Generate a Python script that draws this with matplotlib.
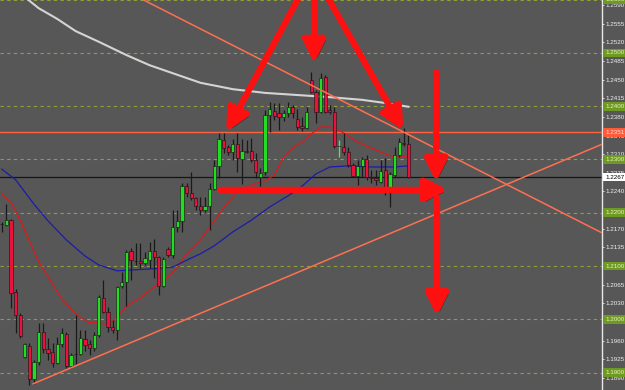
import matplotlib
matplotlib.use('Agg')
import matplotlib.pyplot as plt
import matplotlib.patheffects as pe
import matplotlib.transforms as mtrans
from matplotlib.patches import Rectangle

# ---------------- data ----------------
opens = [1.2179, 1.2177, 1.2186, 1.2052, 1.2008, 1.1929, 1.1950, 1.1888, 1.1920, 1.1976,
         1.1944, 1.1939, 1.1918, 1.1954, 1.1972, 1.1912, 1.1935, 1.1935, 1.1963, 1.1954,
         1.1946, 1.1971, 1.2040, 1.2014, 1.1986, 1.1980, 1.2063, 1.2070, 1.2128, 1.2110,
         1.2110, 1.2106, 1.2111, 1.2128, 1.2117, 1.2063, 1.2132, 1.2121, 1.2173, 1.2185,
         1.2250, 1.2237, 1.2228, 1.2213, 1.2205, 1.2213, 1.2245, 1.2288, 1.2337, 1.2324,
         1.2314, 1.2329, 1.2301, 1.2316, 1.2316, 1.2299, 1.2267, 1.2277, 1.2384, 1.2391,
         1.2387, 1.2380, 1.2387, 1.2399, 1.2376, 1.2363, 1.2359, 1.2449, 1.2427, 1.2389,
         1.2455, 1.2393, 1.2389, 1.2325, 1.2324, 1.2314, 1.2290, 1.2269, 1.2288, 1.2301,
         1.2267, 1.2265, 1.2258, 1.2280, 1.2245, 1.2271, 1.2308, 1.2331, 1.2329]
highs = [1.2183, 1.2216, 1.2188, 1.2056, 1.2012, 1.1956, 1.1956, 1.1924, 1.1993, 1.1993,
         1.1965, 1.1956, 1.1967, 1.1984, 1.1976, 1.1937, 1.2008, 1.1980, 1.1980, 1.1961,
         1.1976, 1.2046, 1.2074, 1.2023, 1.1999, 1.2063, 1.2089, 1.2130, 1.2134, 1.2143,
         1.2143, 1.2126, 1.2145, 1.2151, 1.2119, 1.2117, 1.2136, 1.2205, 1.2205, 1.2256,
         1.2256, 1.2277, 1.2230, 1.2230, 1.2230, 1.2256, 1.2299, 1.2350, 1.2350, 1.2327,
         1.2338, 1.2350, 1.2338, 1.2337, 1.2340, 1.2312, 1.2284, 1.2393, 1.2408, 1.2406,
         1.2406, 1.2393, 1.2408, 1.2402, 1.2395, 1.2380, 1.2399, 1.2464, 1.2430, 1.2462,
         1.2459, 1.2402, 1.2399, 1.2337, 1.2350, 1.2324, 1.2294, 1.2299, 1.2305, 1.2308,
         1.2280, 1.2280, 1.2299, 1.2303, 1.2277, 1.2324, 1.2340, 1.2359, 1.2346]
lows = [1.2164, 1.2175, 1.2021, 1.1974, 1.1965, 1.1927, 1.1877, 1.1879, 1.1914, 1.1937,
        1.1924, 1.1911, 1.1916, 1.1948, 1.1909, 1.1909, 1.1916, 1.1933, 1.1941, 1.1933,
        1.1941, 1.1967, 1.2012, 1.1976, 1.1974, 1.1961, 1.2059, 1.2025, 1.2074, 1.2102,
        1.2096, 1.2102, 1.2096, 1.2078, 1.2046, 1.2061, 1.2117, 1.2115, 1.2164, 1.2164,
        1.2230, 1.2224, 1.2205, 1.2196, 1.2202, 1.2168, 1.2243, 1.2265, 1.2312, 1.2308,
        1.2299, 1.2277, 1.2254, 1.2312, 1.2295, 1.2265, 1.2248, 1.2271, 1.2352, 1.2374,
        1.2355, 1.2372, 1.2380, 1.2378, 1.2355, 1.2354, 1.2357, 1.2425, 1.2368, 1.2387,
        1.2387, 1.2385, 1.2322, 1.2305, 1.2308, 1.2286, 1.2267, 1.2252, 1.2267, 1.2262,
        1.2256, 1.2252, 1.2256, 1.2233, 1.2211, 1.2267, 1.2305, 1.2325, 1.2265]
closes = [1.2178, 1.2186, 1.2050, 1.2008, 1.1969, 1.1954, 1.1888, 1.1920, 1.1976, 1.1944,
          1.1937, 1.1918, 1.1954, 1.1974, 1.1912, 1.1933, 1.1934, 1.1965, 1.1952, 1.1946,
          1.1971, 1.2042, 1.2014, 1.1986, 1.1980, 1.2061, 1.2070, 1.2126, 1.2111, 1.2109,
          1.2106, 1.2115, 1.2128, 1.2117, 1.2063, 1.2113, 1.2121, 1.2173, 1.2185, 1.2250,
          1.2237, 1.2228, 1.2213, 1.2205, 1.2213, 1.2245, 1.2288, 1.2338, 1.2322, 1.2314,
          1.2329, 1.2303, 1.2316, 1.2315, 1.2299, 1.2277, 1.2275, 1.2384, 1.2395, 1.2382,
          1.2380, 1.2387, 1.2399, 1.2387, 1.2361, 1.2359, 1.2389, 1.2427, 1.2389, 1.2453,
          1.2389, 1.2389, 1.2325, 1.2325, 1.2314, 1.2290, 1.2269, 1.2288, 1.2301, 1.2267,
          1.2266, 1.2262, 1.2278, 1.2247, 1.2273, 1.2308, 1.2333, 1.2329, 1.2267]

# moving averages, read at selected bar indices
ma_white_idx = [5, 8, 12, 16, 21, 27, 32, 38, 43, 50, 57, 64, 71, 78, 83, 88]
ma_white = [1.2605, 1.2584, 1.2564, 1.2541, 1.2521, 1.2496, 1.2477, 1.2459, 1.2444,
            1.2432, 1.2425, 1.2421, 1.2417, 1.2412, 1.2406, 1.2399]
ma_red_idx = [0, 2, 4, 6, 8, 10, 13, 15, 17, 19, 21, 23, 25, 27, 30, 33, 36, 38, 40, 43,
              46, 48, 51, 54, 57, 59, 61, 63, 65, 67, 69, 71, 73, 75, 77, 79, 81, 83, 85, 88]
ma_red = [1.2235, 1.2220, 1.2186, 1.2147, 1.2108, 1.2080, 1.2038, 1.2019, 1.2004, 1.1993,
          1.1995, 1.1989, 1.2004, 1.2025, 1.2040, 1.2061, 1.2080, 1.2098, 1.2123, 1.2149,
          1.2185, 1.2209, 1.2239, 1.2252, 1.2260, 1.2271, 1.2305, 1.2322, 1.2333, 1.2348,
          1.2361, 1.2361, 1.2355, 1.2344, 1.2333, 1.2325, 1.2318, 1.2310, 1.2305, 1.2305]
ma_blue_idx = [0, 3, 7, 10, 14, 18, 21, 25, 29, 33, 37, 40, 43, 46, 50, 54, 58, 62, 65,
               68, 71, 75, 80, 85, 88]
ma_blue = [1.2282, 1.2262, 1.2216, 1.2185, 1.2149, 1.2119, 1.2102, 1.2091, 1.2093, 1.2095,
           1.2098, 1.2111, 1.2123, 1.2138, 1.2164, 1.2186, 1.2211, 1.2232, 1.2250, 1.2273,
           1.2286, 1.2288, 1.2286, 1.2286, 1.2288]

# trend lines (bar index, price)
trend_down = [(30.8, 1.2599), (129.5, 1.2164)]
trend_up = [(6.8, 1.1879), (130.0, 1.2329)]

# horizontal levels
round_levels = [1.1900, 1.2000, 1.2100, 1.2200, 1.2300, 1.2400, 1.2500, 1.2600]
resistance_level = 1.2351
current_price = 1.2267
tick_values = [round(1.1890 + 0.0035 * k, 4) for k in range(21)]

# annotation arrows: (tail, tip) in (bar index, price)
arrows = [((64.6, 1.2609), (48.6, 1.2352)),
          ((67.6, 1.2609), (67.6, 1.2481)),
          ((70.2, 1.2609), (86.9, 1.2355)),
          ((47.3, 1.2243), (96.6, 1.2243)),
          ((94.0, 1.2464), (94.0, 1.2258)),
          ((94.2, 1.2228), (94.2, 1.2006))]

# ---------------- styling ----------------
BG = '#575757'
LABEL_FONT = 'Liberation Sans'
LABEL_SIZE = 4.5
fig = plt.figure(figsize=(6.25, 3.9), dpi=100, facecolor=BG)
ax = fig.add_axes([0, 0, 602 / 625, 1])
ax.set_facecolor(BG)
ax.set_xlim(-0.37, 129.9)
ax.set_ylim(1.18673, 1.25994)

for s in ['top', 'left', 'bottom']:
    ax.spines[s].set_visible(False)
ax.spines['right'].set_color('#e8e8e8')
ax.spines['right'].set_linewidth(1.0)

ax.set_xticks([])
ax.yaxis.tick_right()
ax.set_yticks(tick_values)
ax.set_yticklabels([f'{v:.4f}' for v in tick_values])
ax.tick_params(axis='y', colors='#f0f0f0', labelsize=LABEL_SIZE, length=1.6, width=0.6,
               pad=0.9, direction='out', labelfontfamily=LABEL_FONT)

for lvl in round_levels:
    ax.axhline(lvl, color='#8fa03a', lw=0.8, ls=(0, (3, 3)), zorder=1)
ax.axhline(resistance_level, color='#ff6040', lw=1.0, zorder=1.5)
ax.axhline(current_price, color='#151515', lw=0.9, zorder=1.5)

# moving averages
ax.plot(ma_white_idx, ma_white, color='#d4d4d4', lw=1.5, zorder=2)
ax.plot(ma_red_idx, ma_red, color='#dd1a1a', lw=0.9, zorder=2)
ax.plot(ma_blue_idx, ma_blue, color='#1c1ca8', lw=0.9, zorder=2)

# candles
for i, (o, h, l, c) in enumerate(zip(opens, highs, lows, closes)):
    wick_col = '#33ff33' if o == c else '#1a1a1a'
    ax.vlines(i, l, h, color=wick_col, lw=0.9, zorder=3)
    col = '#22dd22' if c >= o else '#e8123c'
    bottom = min(o, c)
    height = max(abs(c - o), 0.00012)
    ax.add_patch(Rectangle((i - 0.35, bottom), 0.70, height, fc=col,
                           ec='#111111', lw=0.4, zorder=4))

# trend lines
ax.axline(trend_down[0], trend_down[1], color='#ff7050', lw=1.1, zorder=5)
ax.plot([p[0] for p in trend_up], [p[1] for p in trend_up], color='#ff7050', lw=1.1,
        zorder=5)

# price labels on the axis
blend = mtrans.blended_transform_factory(ax.transAxes, ax.transData)
def axis_label(y, fc, tc):
    ax.text(1.0055, y, f'{y:.4f}', transform=blend, fontsize=LABEL_SIZE, color=tc,
            family=LABEL_FONT, ha='left', va='center', clip_on=False, zorder=10,
            bbox=dict(boxstyle='square,pad=0.3', fc=fc, ec='none'))
for lvl in round_levels:
    axis_label(lvl, '#6f9a22', '#e8f2c8')
axis_label(resistance_level, '#ff5a3a', '#ffe0d8')
axis_label(current_price, '#ffffff', '#000000')

# red annotation arrows
for tail, tip in arrows:
    ann = ax.annotate('', xy=tip, xytext=tail,
                      arrowprops=dict(arrowstyle='-|>,head_length=1.1,head_width=0.55',
                                      lw=4.5, color='#ff1010', mutation_scale=12,
                                      shrinkA=0, shrinkB=0, capstyle='round'),
                      zorder=8, annotation_clip=False)
    ann.arrow_patch.set_path_effects([
        pe.SimplePatchShadow(offset=(2, -2), shadow_rgbFace='#202020', alpha=0.55),
        pe.Normal()])

fig.savefig('out.png', dpi=100, facecolor=BG)
